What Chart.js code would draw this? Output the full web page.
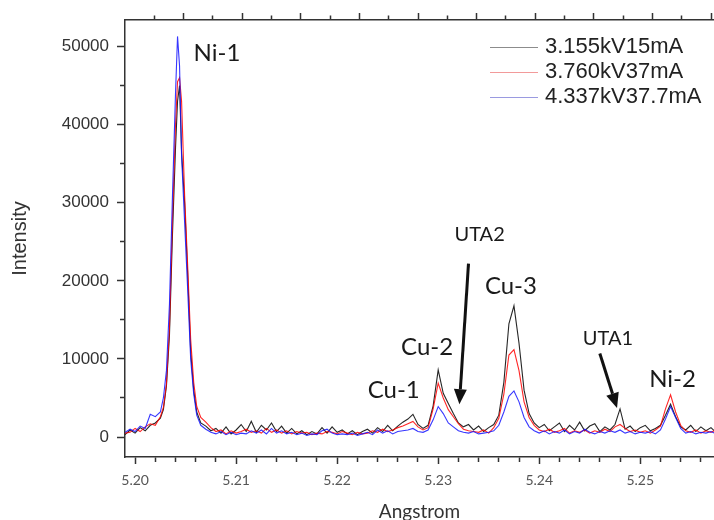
<!DOCTYPE html>
<html>
<head>
<meta charset="utf-8">
<title>Ni / Cu line spectrum</title>
<script src="https://cdn.jsdelivr.net/npm/chart.js@4.4.1/dist/chart.umd.min.js"></script>
<style>
  html, body { margin: 0; padding: 0; background: #fff; }
</style>
</head>
<body>
<canvas id="spectrum" width="714" height="520"></canvas>
<script>
/* ============================================
   Spectrum data
   ============================================ */

// wavelength axis, Angstrom (finer sampling across the Ni-1 peak)
const angstrom = [
  5.1990, 5.1995, 5.2000, 5.2005, 5.2010, 5.2015, 5.2020, 5.2025,
  5.2028, 5.2031, 5.2034, 5.2037, 5.2040, 5.2042, 5.2044, 5.2046, 5.2049, 5.2052, 5.2055, 5.2058, 5.2061, 5.2065,
  5.2070, 5.2075, 5.2080, 5.2085, 5.2090, 5.2095, 5.2100, 5.2105, 5.2110, 5.2115,
  5.2120, 5.2125, 5.2130, 5.2135, 5.2140, 5.2145, 5.2150, 5.2155, 5.2160, 5.2165,
  5.2170, 5.2175, 5.2180, 5.2185, 5.2190, 5.2195, 5.2200, 5.2205, 5.2210, 5.2215,
  5.2220, 5.2225, 5.2230, 5.2235, 5.2240, 5.2245, 5.2250, 5.2255, 5.2260, 5.2265,
  5.2270, 5.2275, 5.2280, 5.2285, 5.2290, 5.2295, 5.2300, 5.2305, 5.2310, 5.2315,
  5.2320, 5.2325, 5.2330, 5.2335, 5.2340, 5.2345, 5.2350, 5.2355, 5.2360, 5.2365,
  5.2370, 5.2375, 5.2380, 5.2385, 5.2390, 5.2395, 5.2400, 5.2405, 5.2410, 5.2415,
  5.2420, 5.2425, 5.2430, 5.2435, 5.2440, 5.2445, 5.2450, 5.2455, 5.2460, 5.2465,
  5.2470, 5.2475, 5.2480, 5.2485, 5.2490, 5.2495, 5.2500, 5.2505, 5.2510, 5.2515,
  5.2520, 5.2525, 5.2530, 5.2535, 5.2540, 5.2545, 5.2550, 5.2555, 5.2560, 5.2565,
  5.2570, 5.2575
];

// 3.155kV15mA (black)
const run3155 = [
  300, 900, 500, 1200, 800, 1500, 1800, 2400,
  3500, 6500, 13000, 26000, 37000, 43000, 45000, 36500, 30000, 21000, 11000, 6000, 3200, 1800,
  1400, 800, 1100, 500, 1300, 400, 900, 1600, 700, 2000,
  600, 1500, 900, 1800, 700, 1400, 500, 1100, 400, 800,
  300, 700, 400, 1200, 500, 1300, 600, 900, 400, 800,
  300, 700, 1000, 500, 1200, 700, 1500, 800, 1400, 1900,
  2300, 2900, 1600, 1100, 1500, 4000, 8600, 5600, 4300, 3000,
  1800, 1300, 1600, 900, 1400, 700, 1200, 1600, 2800, 7000,
  14500, 16800, 12000, 6000, 3000, 1800, 1200, 1600, 800, 1300,
  1800, 700, 1500, 900, 1900, 800, 1400, 1700, 700, 1300,
  900, 1600, 3600, 1000, 1400, 700, 1200, 1500, 800, 1100,
  1500, 2800, 4200, 2600, 1300, 900, 1500, 700, 1300, 800,
  1200, 600
];

// 3.760kV37mA (red)
const run3760 = [
  500, 600, 1100, 700, 1300, 1700, 1500, 2600,
  3800, 6800, 14000, 28000, 40000, 45500, 46000, 43000, 31000, 22000, 12500, 7000, 3900, 2500,
  1900, 1200, 700, 900, 400, 800, 500, 700, 1000, 600,
  800, 500, 1100, 600, 900, 500, 800, 400, 700, 500,
  600, 300, 500, 400, 700, 600, 400, 700, 500, 300,
  600, 400, 500, 800, 600, 1000, 700, 900, 1200, 1400,
  1700, 2000, 1300, 900, 1200, 3600, 6900, 5000, 3500, 2600,
  1700, 1000, 800, 700, 600, 900, 500, 1200, 2400, 5500,
  10500, 11200, 8500, 4500, 2500, 1500, 900, 700, 1000, 600,
  800, 1100, 500, 800, 600, 900, 500, 800, 600, 1000,
  700, 1300, 1600, 1100, 700, 900, 600, 800, 500, 900,
  1400, 3600, 5400, 3200, 1500, 800, 600, 900, 500, 800,
  600, 900
];

// 4.337kV37.7mA (blue)
const run4337 = [
  600, 1000, 700, 1400, 1100, 2900, 2600, 3200,
  5000, 8500, 17000, 31000, 44000, 51300, 47500, 36000, 27500, 19000, 10000, 5500, 2800, 1500,
  1000, 600, 400, 700, 300, 600, 300, 500, 400, 800,
  500, 900, 400, 1100, 500, 800, 400, 600, 300, 500,
  200, 400, 300, 800, 1000, 500, 300, 400, 300, 500,
  200, 400, 600, 300, 900, 500, 800, 400, 700, 800,
  900, 1100, 700, 600, 900, 2200, 3900, 3000, 1800, 1300,
  800, 600, 500, 700, 400, 500, 600, 800, 1500, 3200,
  5200, 5900, 4500, 2500, 1300, 800, 500, 800, 400, 700,
  500, 900, 400, 700, 500, 1000, 600, 400, 700, 500,
  800, 600, 900, 500, 700, 400, 600, 500, 700, 400,
  900, 2300, 3900, 2500, 1100, 500, 700, 400, 600, 500,
  700, 400
];

const seriesLabels = ['3.155kV15mA', '3.760kV37mA', '4.337kV37.7mA'];

// tick marks and labelled (major) ticks
const xTicks = [
  5.200, 5.202, 5.204, 5.206, 5.208, 5.210, 5.212, 5.214, 5.216, 5.218,
  5.220, 5.222, 5.224, 5.226, 5.228, 5.230, 5.232, 5.234, 5.236, 5.238,
  5.240, 5.242, 5.244, 5.246, 5.248, 5.250, 5.252, 5.254, 5.256
];
const xLabels = [5.20, 5.21, 5.22, 5.23, 5.24, 5.25];
const yTicks = [0, 5000, 10000, 15000, 20000, 25000, 30000, 35000, 40000, 45000, 50000];
const yLabels = [0, 10000, 20000, 30000, 40000, 50000];
const topTicks = [1, 2, 3, 4, 5, 6, 7, 8, 9, 10, 11, 12, 13, 14, 15, 16, 17, 18, 19, 20];
const topMajor = [2, 4, 6, 8, 10, 12, 14, 16, 18, 20];

// peak names and arrows, in data coordinates
const peakNames = [
  { text: 'Ni-1', x: 5.2081, y: 49200, size: 24 },
  { text: 'Cu-1', x: 5.2256, y: 6000, size: 24 },
  { text: 'Cu-2', x: 5.2289, y: 11500, size: 24 },
  { text: 'Cu-3', x: 5.2372, y: 19300, size: 24 },
  { text: 'UTA2', x: 5.2341, y: 25900, size: 20 },
  { text: 'UTA1', x: 5.2468, y: 12600, size: 20 },
  { text: 'Ni-2', x: 5.2532, y: 7450, size: 24 }
];
const peakArrows = [
  { x0: 5.2330, y0: 22200, x1: 5.2321, y1: 4200 },
  { x0: 5.2460, y0: 10700, x1: 5.2477, y1: 3700 }
];

const X_MIN = 5.1990, X_MAX = 5.2573;
const Y_MIN = -2560, Y_MAX = 53400;

const COLORS = {
  axis: '#333',
  black: 'rgba(0,0,0,0.85)',
  red: 'rgba(255,0,0,0.85)',
  blue: 'rgba(20,20,255,0.85)',
  legend: ['#8c8c8c', '#f29a9a', '#9a9ae0']
};

const near = (list, v) => list.some(t => Math.abs(t - v) < 1e-7);

// outward tick marks only; minor ticks are shortened with a dash pattern
function tickGrid(len, majors, minorDash) {
  return {
    display: true, drawOnChartArea: false, drawTicks: true,
    tickLength: len, tickColor: COLORS.axis, tickWidth: 1.5,
    tickBorderDash: ctx => (ctx.tick && near(majors, ctx.tick.value)) ? [] : minorDash
  };
}

// legend inside the plot, top right
const insideLegend = {
  id: 'insideLegend',
  afterDraw(chart) {
    const c = chart.ctx, a = chart.chartArea;
    const x0 = a.right - 224, y0 = a.top + 27, rowH = 25, lineLen = 48;
    c.save();
    c.font = "22px 'Liberation Sans', Arial, sans-serif";
    c.textBaseline = 'middle';
    c.textAlign = 'left';
    seriesLabels.forEach((lbl, i) => {
      const yy = y0 + i * rowH;
      c.strokeStyle = COLORS.legend[i];
      c.lineWidth = 1;
      c.beginPath();
      c.moveTo(x0, yy + 0.5);
      c.lineTo(x0 + lineLen, yy + 0.5);
      c.stroke();
      c.fillStyle = '#222';
      c.fillText(lbl, x0 + lineLen + 7, yy);
    });
    c.restore();
  }
};

// peak names and arrows
const peakNotes = {
  id: 'peakNotes',
  afterDatasetsDraw(chart) {
    const c = chart.ctx, x = chart.scales.x, y = chart.scales.y;
    c.save();
    c.fillStyle = '#1a1a1a';
    c.textAlign = 'center';
    c.textBaseline = 'middle';
    peakNames.forEach(p => {
      c.font = p.size + "px Lato, 'Open Sans', sans-serif";
      c.fillText(p.text, x.getPixelForValue(p.x), y.getPixelForValue(p.y));
    });
    c.strokeStyle = '#111';
    c.fillStyle = '#111';
    c.lineWidth = 3;
    peakArrows.forEach(ar => {
      const x0 = x.getPixelForValue(ar.x0), y0 = y.getPixelForValue(ar.y0);
      const x1 = x.getPixelForValue(ar.x1), y1 = y.getPixelForValue(ar.y1);
      const ang = Math.atan2(y1 - y0, x1 - x0);
      const head = 15, half = 6.5;
      const bx = x1 - head * Math.cos(ang), by = y1 - head * Math.sin(ang);
      c.beginPath();
      c.moveTo(x0, y0);
      c.lineTo(bx, by);
      c.stroke();
      c.beginPath();
      c.moveTo(x1, y1);
      c.lineTo(bx + half * Math.sin(ang), by - half * Math.cos(ang));
      c.lineTo(bx - half * Math.sin(ang), by + half * Math.cos(ang));
      c.closePath();
      c.fill();
    });
    c.restore();
  }
};

function makeSeries(values) {
  return angstrom.map((a, i) => ({ x: a, y: values[i] }));
}

new Chart(document.getElementById('spectrum'), {
  type: 'line',
  data: {
    datasets: [{
      label: seriesLabels[0],
      data: makeSeries(run3155),
      borderColor: COLORS.black,
      xAxisID: 'x', yAxisID: 'y',
      order: 3,
    }, {
      label: seriesLabels[1],
      data: makeSeries(run3760),
      borderColor: COLORS.red,
      xAxisID: 'x', yAxisID: 'y',
      order: 2,
    }, {
      label: seriesLabels[2],
      data: makeSeries(run4337),
      borderColor: COLORS.blue,
      xAxisID: 'x', yAxisID: 'y',
      order: 1,
    }]
  },
  options: {
    responsive: false,
    animation: false,
    layout: { padding: 0 },
    elements: {
      point: { radius: 0 },
      line: { borderWidth: 1.1, tension: 0, fill: false }
    },
    plugins: {
      legend: { display: false },
      tooltip: { enabled: false }
    },
    scales: {
      x: {
        type: 'linear', position: 'bottom', min: X_MIN, max: X_MAX,
        afterBuildTicks: s => { s.ticks = xTicks.map(v => ({ value: v })); },
        afterFit: s => { s.height = 63; },
        grid: tickGrid(7, xLabels, [4.5, 20]),
        border: { display: true, color: COLORS.axis, width: 1.5 },
        ticks: {
          autoSkip: false, maxRotation: 0, padding: 8, color: '#555',
          font: { family: 'Lato', size: 14 },
          callback: v => near(xLabels, v) ? v.toFixed(2) : ''
        },
        title: {
          display: true, text: 'Angstrom', color: '#333',
          font: { family: 'Lato', size: 19 }, padding: { top: 0, bottom: -3 }
        }
      },
      xTop: {
        type: 'linear', position: 'top', min: 0, max: 20.1,
        afterBuildTicks: s => { s.ticks = topTicks.map(v => ({ value: v })); },
        afterFit: s => { s.height = 20; },
        grid: tickGrid(7, topMajor, [0, 2.5, 20]),
        border: { display: true, color: COLORS.axis, width: 1.5 },
        ticks: { display: false }
      },
      y: {
        type: 'linear', position: 'left', min: Y_MIN, max: Y_MAX,
        afterBuildTicks: s => { s.ticks = yTicks.map(v => ({ value: v })); },
        afterFit: s => { s.width = 125; },
        grid: tickGrid(8, yLabels, [0, 3, 20]),
        border: { display: true, color: COLORS.axis, width: 1.5 },
        ticks: {
          autoSkip: false, padding: 8, color: '#333',
          font: { family: "'Liberation Sans', Arial, sans-serif", size: 17 },
          callback: v => near(yLabels, v) ? String(v) : ''
        },
        title: {
          display: true, text: 'Intensity', color: '#333',
          font: { family: "'Liberation Sans', Arial, sans-serif", size: 20 }, padding: { top: 8, bottom: 0 }
        }
      }
    }
  },
  plugins: [peakNotes, insideLegend]
});
</script>
</body>
</html>
